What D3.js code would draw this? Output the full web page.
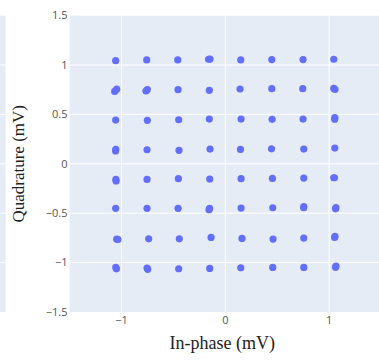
<!DOCTYPE html>
<html>
<head>
<meta charset="utf-8">
<script src="https://cdn.jsdelivr.net/npm/d3@7"></script>
<style>
  html, body { margin: 0; padding: 0; background: #fff; }
  svg { display: block; }
</style>
</head>
<body>
<svg id="chart" width="379" height="361"></svg>
<script>
// received constellation samples, in mV
const inPhase = [
  -1.056, -0.757, -0.458, -0.161, -0.147, 0.149, 0.448, 0.749, 1.045,
  -1.066, -1.046, -0.764, -0.751, -0.455, -0.154, 0.142, 0.448, 0.746, 1.045, 1.057,
  -1.056, -0.751, -0.449, -0.154, 0.152, 0.451, 0.749, 1.055, 1.054,
  -1.057, -1.055, -0.754, -0.446, -0.147, 0.146, 0.445, 0.756, 1.055,
  -1.054, -1.052, -0.754, -0.452, -0.150, 0.152, 0.454, 0.756, 1.045, 1.052,
  -1.056, -0.754, -0.455, -0.151, -0.157, 0.152, 0.457, 0.756, 0.755, 1.066, 1.062,
  -1.046, -1.034, -0.738, -0.443, -0.137, 0.161, 0.460, 0.756, 1.057, 1.053,
  -1.055, -1.049, -0.754, -0.747, -0.449, -0.150, 0.149, 0.457, 0.756, 1.066, 1.062
];
const quadrature = [
  1.044, 1.051, 1.051, 1.058, 1.060, 1.051, 1.055, 1.055, 1.058,
  0.733, 0.755, 0.737, 0.751, 0.750, 0.744, 0.757, 0.760, 0.760, 0.763, 0.753,
  0.443, 0.440, 0.446, 0.453, 0.453, 0.450, 0.453, 0.468, 0.452,
  0.130, 0.147, 0.142, 0.136, 0.149, 0.146, 0.152, 0.149, 0.159,
  -0.158, -0.174, -0.158, -0.151, -0.154, -0.151, -0.148, -0.144, -0.141, -0.141,
  -0.451, -0.451, -0.451, -0.451, -0.464, -0.448, -0.445, -0.432, -0.445, -0.444, -0.456,
  -0.763, -0.767, -0.759, -0.759, -0.745, -0.755, -0.762, -0.752, -0.734, -0.746,
  -1.049, -1.063, -1.055, -1.068, -1.062, -1.059, -1.052, -1.049, -1.049, -1.036, -1.048
];
const xTicks = [-1, 0, 1];
const yTicks = [-1.5, -1, -0.5, 0, 0.5, 1, 1.5];

const svg = d3.select('#chart');
const plot = { left: 69.6, right: 381, top: 15.6, bottom: 312 };
const bg = '#e5ecf6';
const tickColor = '#555';

const x = d3.scaleLinear().domain([-1.5, 1.5]).range([plot.left, plot.right]);
const y = d3.scaleLinear().domain([-1.5, 1.5]).range([plot.bottom, plot.top]);
const fmt = d3.format('~g');

// edge of the neighbouring subplot, cut off at the left
svg.append('rect')
    .attr('x', 0).attr('y', plot.top)
    .attr('width', 5.5).attr('height', plot.bottom - plot.top)
    .attr('fill', bg);
svg.append('g').selectAll('line')
    .data(yTicks.slice(1, -1))
    .join('line')
    .attr('x1', 0).attr('x2', 5.5)
    .attr('y1', d => y(d)).attr('y2', d => y(d))
    .attr('stroke', '#fff').attr('stroke-width', 1);

// main plot background
svg.append('rect')
    .attr('x', plot.left).attr('y', plot.top)
    .attr('width', plot.right - plot.left).attr('height', plot.bottom - plot.top)
    .attr('fill', bg);

const grid = svg.append('g').attr('stroke', '#fff').attr('stroke-width', 1);
grid.selectAll('.gy')
    .data(yTicks.slice(1, -1))
    .join('line')
    .attr('class', 'gy')
    .attr('x1', plot.left).attr('x2', plot.right)
    .attr('y1', d => y(d)).attr('y2', d => y(d));
grid.selectAll('.gx')
    .data(xTicks)
    .join('line')
    .attr('class', 'gx')
    .attr('x1', d => x(d)).attr('x2', d => x(d))
    .attr('y1', plot.top).attr('y2', plot.bottom);

// points
const pts = d3.zip(inPhase, quadrature);
svg.append('g')
    .selectAll('circle')
    .data(pts)
    .join('circle')
    .attr('cx', d => x(d[0]))
    .attr('cy', d => y(d[1]))
    .attr('r', 3.6)
    .attr('fill', '#636efa');

// tick labels
svg.append('g')
    .attr('font-family', '"Open Sans", sans-serif')
    .attr('font-size', 11)
    .attr('fill', tickColor)
    .selectAll('text')
    .data(yTicks)
    .join('text')
    .attr('x', 67.5)
    .attr('y', d => y(d))
    .attr('dy', '0.35em')
    .attr('text-anchor', 'end')
    .text(d => fmt(d));

svg.append('g')
    .attr('font-family', '"Open Sans", sans-serif')
    .attr('font-size', 11)
    .attr('fill', tickColor)
    .selectAll('text')
    .data(xTicks)
    .join('text')
    .attr('x', d => x(d))
    .attr('y', 324)
    .attr('text-anchor', 'middle')
    .text(d => fmt(d));

// axis titles
svg.append('text')
    .attr('x', (x(-1.5) + x(1.5)) / 2 - 3)
    .attr('y', 349)
    .attr('text-anchor', 'middle')
    .attr('font-family', '"Liberation Serif", "Times New Roman", serif')
    .attr('font-size', 18)
    .attr('fill', '#222')
    .text('In-phase (mV)');

svg.append('text')
    .attr('transform', `translate(24,${(plot.top + plot.bottom) / 2}) rotate(-90)`)
    .attr('text-anchor', 'middle')
    .attr('font-family', '"Liberation Serif", "Times New Roman", serif')
    .attr('font-size', 17)
    .attr('fill', '#222')
    .text('Quadrature (mV)');
</script>
</body>
</html>
